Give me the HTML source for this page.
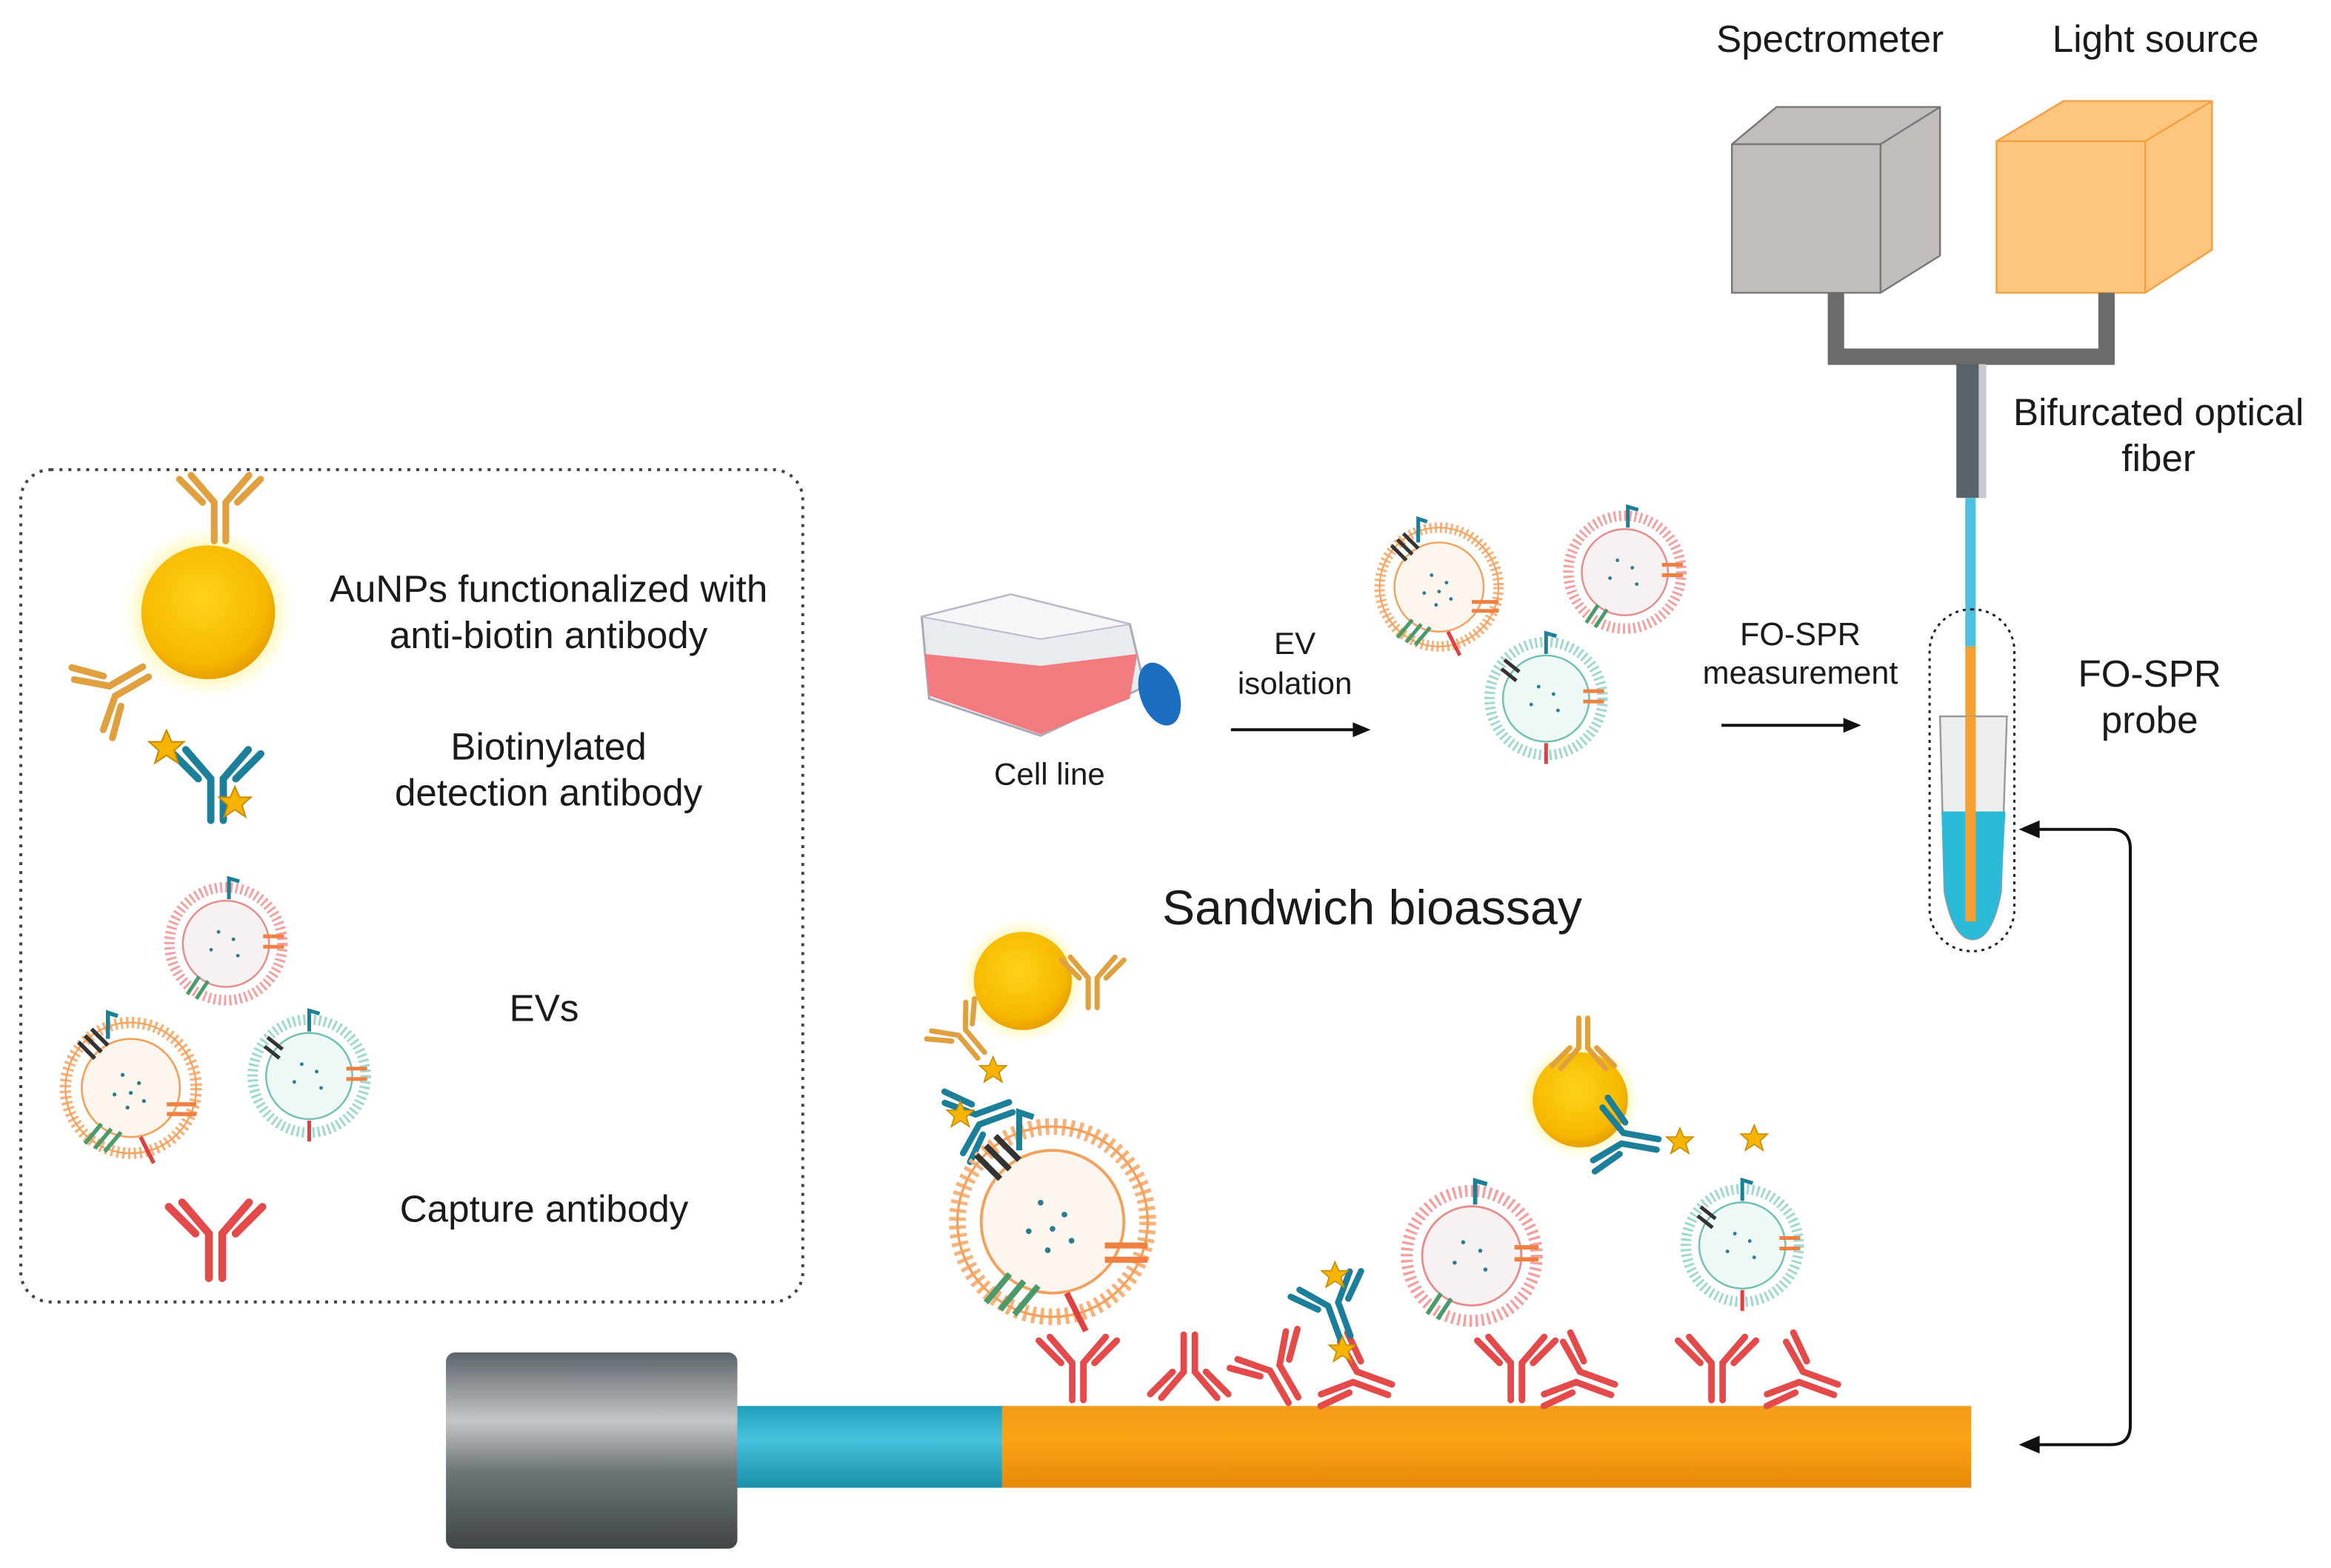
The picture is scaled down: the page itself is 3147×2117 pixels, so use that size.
<!DOCTYPE html>
<html><head><meta charset="utf-8"><style>
html,body{margin:0;padding:0;background:#fff}
svg{display:block}
text{font-family:"Liberation Sans",sans-serif;fill:#1a1a1a}
</style></head><body>
<svg width="3147" height="2117" viewBox="0 0 1568 1055" preserveAspectRatio="none" xmlns="http://www.w3.org/2000/svg">
<defs>
<radialGradient id="gold" cx="0.45" cy="0.4" r="0.6"><stop offset="0" stop-color="#ffd21a"/><stop offset="0.8" stop-color="#f6b800"/><stop offset="1" stop-color="#e8a000"/></radialGradient>
<radialGradient id="glow" r="0.5"><stop offset="0.7" stop-color="#fff3a0" stop-opacity="0.9"/><stop offset="1" stop-color="#fff8c0" stop-opacity="0"/></radialGradient>
<linearGradient id="gray" x1="0" y1="0" x2="0" y2="1"><stop offset="0" stop-color="#5d6469"/><stop offset="0.35" stop-color="#c2c6c9"/><stop offset="0.6" stop-color="#6f7679"/><stop offset="1" stop-color="#3f4548"/></linearGradient>
<linearGradient id="orng" x1="0" y1="0" x2="0" y2="1"><stop offset="0" stop-color="#f29a1a"/><stop offset="0.4" stop-color="#fba414"/><stop offset="1" stop-color="#e58a0a"/></linearGradient>
<linearGradient id="cyan" x1="0" y1="0" x2="0" y2="1"><stop offset="0" stop-color="#1f9fbb"/><stop offset="0.4" stop-color="#47c2dd"/><stop offset="1" stop-color="#1a8fab"/></linearGradient>
<g id="ab"><path d="M-3 0V-20L-15-34M3 0V-20L15-34M-9-20L-21-32M9-20L21-32" fill="none" stroke-width="3.5" stroke-linecap="round"/></g>
<g id="star"><polygon points="0,-9 2.6,-3 9,-3 4,1.5 6,8 0,4 -6,8 -4,1.5 -9,-3 -2.6,-3" fill="#f6b400" stroke="#c88a00" stroke-width="0.8"/></g>
<g id="evO"><circle r="40" fill="#fff" stroke="#f7b27a" stroke-width="7" stroke-dasharray="1.5 2"/><circle r="40" fill="none" stroke="#f5a05a" stroke-width="1"/><circle r="30" fill="#fdf6ee" stroke="#f5a05a" stroke-width="1.2"/><g fill="#2a7c8f"><circle cx="-5" cy="-8" r="1.2"/><circle cx="5" cy="-3" r="1.2"/><circle cx="-10" cy="4" r="1.2"/><circle cx="8" cy="8" r="1.2"/><circle cx="0" cy="3" r="1.2"/><circle cx="-2" cy="12" r="1.2"/></g><path d="M-32-28l10 10M-28-32l10 10M-24-36l10 10" stroke="#333" stroke-width="2.5"/><path d="M22 10h18M22 16h18" stroke="#f08040" stroke-width="2.5"/><path d="M-18 22l-10 12M-12 25l-10 12M-6 27l-10 12" stroke="#4a9a6a" stroke-width="2.5"/><path d="M6 30l8 16" stroke="#e04040" stroke-width="2.5"/><path d="M-14-30v-16l6 2" stroke="#1b7f95" stroke-width="2.5" fill="none"/></g>
<g id="evR"><circle r="38" fill="#fff" stroke="#f3a0a0" stroke-width="7" stroke-dasharray="1.5 2"/><circle r="29" fill="#f8f1f1" stroke="#e88a8a" stroke-width="1.2"/><g fill="#2a7c8f"><circle cx="-5" cy="-8" r="1.2"/><circle cx="5" cy="-3" r="1.2"/><circle cx="-10" cy="4" r="1.2"/><circle cx="8" cy="8" r="1.2"/></g><path d="M2-30v-14l7 2" stroke="#1b7f95" stroke-width="2.5" fill="none"/><path d="M-18 22l-8 12M-12 25l-8 12" stroke="#4a9a6a" stroke-width="2.5"/><path d="M25-5h14M25 2h14" stroke="#f08040" stroke-width="2.5"/></g>
<g id="evG"><circle r="38" fill="#fff" stroke="#9fd8cf" stroke-width="7" stroke-dasharray="1.5 2"/><circle r="29" fill="#eef8f6" stroke="#6ec0b2" stroke-width="1.2"/><g fill="#2a7c8f"><circle cx="-5" cy="-8" r="1.2"/><circle cx="5" cy="-3" r="1.2"/><circle cx="-10" cy="4" r="1.2"/><circle cx="8" cy="8" r="1.2"/></g><path d="M-30-20l10 8M-28-26l10 8" stroke="#333" stroke-width="2.5"/><path d="M0-30v-14l7 2" stroke="#1b7f95" stroke-width="2.5" fill="none"/><path d="M25 -5h14M25 2h14" stroke="#f08040" stroke-width="2.5"/><path d="M0 30v14" stroke="#e04040" stroke-width="2.5"/></g>
</defs>

<!-- legend box -->
<rect x="14" y="316" width="526" height="560" rx="20" fill="none" stroke="#444" stroke-width="2" stroke-dasharray="2 4"/>
<circle cx="140" cy="412" r="58" fill="url(#glow)"/>
<circle cx="140" cy="412" r="45" fill="url(#gold)"/>
<use href="#ab" transform="translate(148 364) scale(1.3)" stroke="#e0a040"/>
<use href="#ab" transform="translate(98 452) rotate(-120) scale(1.3)" stroke="#e0a040"/>
<text x="369" y="405" font-size="25.5" text-anchor="middle">AuNPs functionalized with</text>
<text x="369" y="436" font-size="25.5" text-anchor="middle">anti-biotin antibody</text>
<use href="#ab" transform="translate(146 552) scale(1.4)" stroke="#1b7f9a" stroke-width="1.5"/>
<use href="#star" transform="translate(112 503) scale(1.3)"/><use href="#star" transform="translate(158 540) scale(1.2)"/>
<text x="369" y="511" font-size="25.5" text-anchor="middle">Biotinylated</text>
<text x="369" y="542" font-size="25.5" text-anchor="middle">detection antibody</text>
<use href="#evR" x="152" y="635"/>
<use href="#evO" transform="translate(88 732) scale(1.1)"/>
<use href="#evG" x="208" y="724"/>
<text x="366" y="687" font-size="25.5" text-anchor="middle">EVs</text>
<use href="#ab" transform="translate(145 860) scale(1.5)" stroke="#e54a4a"/>
<text x="366" y="822" font-size="25.5" text-anchor="middle">Capture antibody</text>

<!-- flask -->
<polygon points="620,415 680,400 760,420 770,462 700,495 625,470" fill="#e9ecef" stroke="#aab" stroke-width="1.5"/>
<polygon points="622,440 700,448 765,440 760,470 700,494 625,468" fill="#f27b80"/>
<polygon points="620,415 700,430 760,420 680,400" fill="#f4f6f7" stroke="#bbc" stroke-width="1"/>
<ellipse cx="780" cy="467" rx="13" ry="22" transform="rotate(-20 780 467)" fill="#1c6fc0"/>
<text x="706" y="528" font-size="21" text-anchor="middle">Cell line</text>
<text x="871" y="440" font-size="21" text-anchor="middle">EV</text>
<text x="871" y="467" font-size="21" text-anchor="middle">isolation</text>
<path d="M828 491H912" stroke="#111" stroke-width="2"/><polygon points="922,491 910,486 910,496" fill="#111"/>
<use href="#evO" x="968" y="395"/>
<use href="#evR" x="1093" y="385"/>
<use href="#evG" x="1040" y="470"/>
<text x="1211" y="434" font-size="21.5" text-anchor="middle">FO-SPR</text>
<text x="1211" y="460" font-size="21.5" text-anchor="middle">measurement</text>
<path d="M1158 488H1242" stroke="#111" stroke-width="2"/><polygon points="1252,488 1240,483 1240,493" fill="#111"/>

<!-- instruments -->
<text x="1231" y="35" font-size="25.5" text-anchor="middle">Spectrometer</text>
<text x="1450" y="35" font-size="25.5" text-anchor="middle">Light source</text>
<polygon points="1165,97 1195,72 1305,72 1305,172 1265,197 1165,197" fill="#c2bcba" stroke="#777" stroke-width="1.2"/>
<path d="M1165 97H1265V197M1265 97L1305 72" fill="none" stroke="#777" stroke-width="1.2"/>
<polygon points="1343,95 1388,68 1488,68 1488,168 1443,197 1343,197" fill="#fdc57e" stroke="#f5a040" stroke-width="1.2"/>
<path d="M1343 95H1443V197M1443 95L1488 68" fill="none" stroke="#f5a040" stroke-width="1.2"/>
<path d="M1235 197V240H1417V197" fill="none" stroke="#6b6b6b" stroke-width="11"/>
<rect x="1316" y="245" width="20" height="90" fill="#5a6268"/><rect x="1331" y="245" width="5" height="90" fill="#c8ccd0"/>
<text x="1452" y="286" font-size="25.5" text-anchor="middle">Bifurcated optical</text>
<text x="1452" y="317" font-size="25.5" text-anchor="middle">fiber</text>
<rect x="1322" y="335" width="7" height="100" fill="#4ec0dd"/>
<rect x="1322" y="435" width="7" height="185" fill="#f5a030"/>
<rect x="1298" y="410" width="57" height="230" rx="28" fill="none" stroke="#222" stroke-width="1.5" stroke-dasharray="2 3"/>
<path d="M1305 482H1350L1346 600Q1340 632 1327 632Q1314 632 1308 600Z" fill="#e6e8ea" fill-opacity="0.8" stroke="#999" stroke-width="1.2"/>
<path d="M1306 546H1349L1346 600Q1340 632 1327 632Q1314 632 1308 600Z" fill="#2bbbd8"/>
<rect x="1322" y="482" width="7" height="138" fill="#f5a030"/>
<text x="1446" y="462" font-size="25.5" text-anchor="middle">FO-SPR</text>
<text x="1446" y="493" font-size="25.5" text-anchor="middle">probe</text>
<path d="M1370 558H1420Q1433 558 1433 571V959Q1433 972 1420 972H1370" fill="none" stroke="#111" stroke-width="2"/>
<polygon points="1358,558 1372,552 1372,564" fill="#111"/><polygon points="1358,972 1372,966 1372,978" fill="#111"/>

<text x="923" y="622" font-size="33" text-anchor="middle">Sandwich bioassay</text>

<!-- bottom fiber -->
<rect x="300" y="910" width="196" height="132" rx="6" fill="url(#gray)"/>
<rect x="496" y="946" width="180" height="55" fill="url(#cyan)"/>
<rect x="674" y="946" width="652" height="55" fill="url(#orng)"/>
<g stroke="#e54a4a">
<use href="#ab" transform="translate(725 942) scale(1.25)"/><use href="#ab" transform="rotate(180 800 920) translate(800 942) scale(1.25)"/>
<use href="#ab" transform="translate(870 942) rotate(-30) scale(1.25)"/><use href="#ab" transform="translate(935 935) rotate(-70) scale(1.25)"/>
<use href="#ab" transform="translate(1020 942) scale(1.25)"/><use href="#ab" transform="translate(1085 935) rotate(-70) scale(1.25)"/>
<use href="#ab" transform="translate(1155 942) scale(1.25)"/><use href="#ab" transform="translate(1235 935) rotate(-70) scale(1.25)"/>
</g>
<!-- complexes -->
<circle cx="688" cy="660" r="42" fill="url(#glow)"/><circle cx="688" cy="660" r="33" fill="url(#gold)"/>
<use href="#ab" x="735" y="678" stroke="#e0a040"/>
<use href="#ab" transform="translate(660 710) rotate(-40)" stroke="#e0a040"/>
<use href="#star" x="668" y="720"/>
<use href="#ab" transform="translate(680 745) rotate(-110) scale(1.2)" stroke="#1b7f9a"/><use href="#star" x="646" y="750"/>
<use href="#evO" transform="translate(708 822) scale(1.6)"/>
<use href="#ab" transform="translate(905 900) rotate(-20) scale(1.2)" stroke="#1b7f9a"/><use href="#star" x="898" y="858"/><use href="#star" x="903" y="908"/>
<use href="#evR" transform="translate(990 845) scale(1.15)"/>
<circle cx="1063" cy="740" r="40" fill="url(#glow)"/><circle cx="1063" cy="740" r="32" fill="url(#gold)"/>
<use href="#ab" x="1065" y="705" stroke="#e0a040" transform="rotate(180 1065 695)"/>
<use href="#ab" transform="translate(1115 770) rotate(-80) scale(1.2)" stroke="#1b7f9a"/><use href="#star" x="1130" y="768"/><use href="#star" x="1180" y="766"/>
<use href="#evG" transform="translate(1172 838) scale(1.0)"/>
</svg>
</body></html>
